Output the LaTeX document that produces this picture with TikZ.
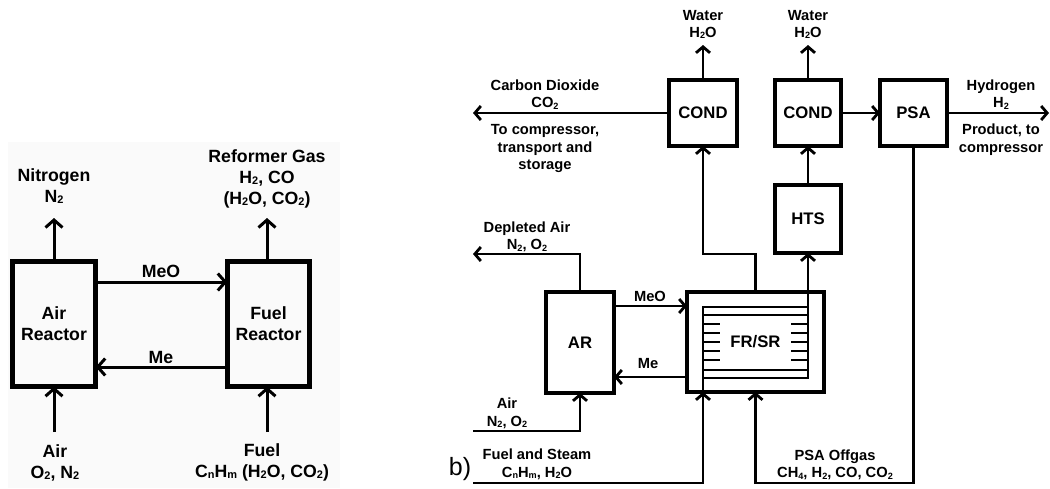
\documentclass[tikz,border=0pt]{standalone}
\usepackage{fontspec}
\setmainfont{Liberation Sans}
\usepackage{graphicx}
\usetikzlibrary{arrows.meta}
\newcommand\sbs[1]{\raisebox{-0.15ex}{\scalebox{0.62}{#1}}}
\definecolor{panelbg}{RGB}{250,250,250}
\begin{document}
\begin{tikzpicture}[x=1pt,y=-1pt,
 rbox/.style={draw, line width=3.8pt, inner sep=0pt, outer sep=0pt, font=\fontsize{16.7}{20}\selectfont\bfseries, align=center},
 lbox/.style={draw, line width=4.6pt, inner sep=0pt, outer sep=0pt, font=\fontsize{17.7}{21}\selectfont\bfseries, align=center},
 rflow/.style={line width=2.8pt, -{Straight Barb[length=6pt,width=14pt]}},
 lflow/.style={line width=3pt, -{Straight Barb[length=7.5pt,width=17pt]}},
 rlab/.style={font=\fontsize{14.7}{17.5}\selectfont\bfseries, align=center, inner sep=0pt},
 llab/.style={font=\fontsize{17.7}{21}\selectfont\bfseries, align=center, inner sep=0pt},
 boxlab/.style={font=\fontsize{16.7}{20}\selectfont\bfseries, inner sep=0pt},
 innerln/.style={line width=2.6pt}]
\useasboundingbox (0,0) rectangle (1050,488);
\fill[panelbg] (8,142) rectangle (340,488);

% ---------- left panel ----------
\node[lbox, minimum width=83.4pt, minimum height=125.4pt] (lar) at (54,324) {Air\\Reactor};
\node[lbox, minimum width=82.4pt, minimum height=125.4pt] (lfr) at (268.5,324) {Fuel\\Reactor};
\node[llab] (nitro) at (54,186) {Nitrogen\\N\sbs{2}};
\node[llab] (refgas) at (267,179) {Reformer Gas\\H\sbs{2}, CO\\(H\sbs{2}O, CO\sbs{2})};
\node[llab] (airin) at (55,462.5) {Air\\O\sbs{2}, N\sbs{2}};
\node[llab] (fuelin) at (262,462.5) {Fuel\\C\sbs{n}H\sbs{m} (H\sbs{2}O, CO\sbs{2})};
\node[llab] (lmeo) at (161,271) {MeO};
\node[llab] (lme) at (161,357) {Me};
\coordinate (nitroend) at (54,218);
\coordinate (refend) at (267,218);
\coordinate (airstartl) at (54,432);
\coordinate (fuelstartl) at (267,432);
\draw[lflow] (lar.north) -- (nitroend);
\draw[lflow] (lfr.north -| refend) -- (refend);
\draw[lflow] (airstartl) -- (lar.south);
\draw[lflow] (fuelstartl) -- (lfr.south -| fuelstartl);
\draw[lflow] (lar.east |- 0,282) -- (lfr.west |- 0,282);
\draw[lflow] (lfr.west |- 0,367) -- (lar.east |- 0,367);

% ---------- right panel ----------
\node[rbox, minimum width=68pt, minimum height=66pt] (cond1) at (703,113) {COND};
\node[rbox, minimum width=66pt, minimum height=66pt] (cond2) at (808,113) {COND};
\node[rbox, minimum width=67pt, minimum height=66pt] (psa) at (913.5,113) {PSA};
\node[rbox, minimum width=66pt, minimum height=68pt] (hts) at (808,219) {HTS};
\node[rbox, minimum width=68pt, minimum height=101pt] (ar) at (580,342.5) {AR};
\node[rbox, minimum width=137pt, minimum height=100pt] (fr) at (755.5,342) {};
\node[boxlab] (frlab) at (755.5,342) {FR/SR};

\node[rlab] (water1) at (703,24.5) {Water\\H\sbs{2}O};
\node[rlab] (water2) at (808,24.5) {Water\\H\sbs{2}O};
\node[rlab] (co2lab) at (545,94.5) {Carbon Dioxide\\CO\sbs{2}};
\node[rlab] (co2dest) at (545,148.5) {To compressor,\\transport and\\storage};
\node[rlab] (h2lab) at (1001,94.5) {Hydrogen\\H\sbs{2}};
\node[rlab] (h2dest) at (1001,139.5) {Product, to\\compressor};
\node[rlab] (deplab) at (527,237) {Depleted Air\\N\sbs{2}, O\sbs{2}};
\node[rlab] (airlab) at (507,413.5) {Air\\N\sbs{2}, O\sbs{2}};
\node[rlab] (fslab) at (537,464.5) {Fuel and Steam\\C\sbs{n}H\sbs{m}, H\sbs{2}O};
\node[rlab] (psalab) at (835,465) {PSA Offgas\\CH\sbs{4}, H\sbs{2}, CO, CO\sbs{2}};
\node[rlab] (meolab) at (650,296) {MeO};
\node[rlab] (melab) at (648,364) {Me};
\node[font=\fontsize{25}{28}\selectfont, inner sep=0pt] (blab) at (460,469) {b)};

\coordinate (w1end) at (703,45);
\coordinate (w2end) at (808,45);
\coordinate (co2end) at (473,113);
\coordinate (h2end) at (1049,113);
\coordinate (depend) at (473,254);
\coordinate (airstart) at (473,431);
\coordinate (fsstart) at (473,483);
\coordinate (fscorner) at (703,483);
\coordinate (srout) at (808,378);

% inner reformer tube structure
\draw[innerln] (703,307) rectangle (808,378);
\draw[innerln] (703,315) -- (808,315);
\draw[innerln] (703,370) -- (808,370);
\draw[innerln] (703,378) -- (703,392);
\foreach \yy in {324,333,342,351,360} {
  \draw[innerln] (703,\yy) -- (720,\yy);
  \draw[innerln] (791,\yy) -- (808,\yy);
}

\draw[rflow] (cond1.north) -- (w1end);
\draw[rflow] (cond2.north) -- (w2end);
\draw[rflow] (cond1.west) -- (co2end);
\draw[rflow] (cond2.east) -- (psa.west);
\draw[rflow] (psa.east) -- (h2end);
\draw[rflow] (hts.north) -- (cond2.south);
\draw[rflow] (srout) -- (hts.south);
\draw[rflow] (fr.north) -- (fr.north |- 0,254) -- (cond1.south |- 0,254) -- (cond1.south);
\draw[rflow] (ar.north) -- (ar.north |- depend) -- (depend);
\draw[rflow] (airstart) -- (ar.south |- airstart) -- (ar.south);
\draw[rflow] (fsstart) -- (fscorner) -- (fr.south -| fscorner);
\draw[rflow] (psa.south) |- (fr.south |- fsstart) -- (fr.south);
\draw[rflow] (ar.east |- 0,306) -- (fr.west |- 0,306);
\draw[rflow] (fr.west |- 0,377) -- (ar.east |- 0,377);
\end{tikzpicture}
\end{document}
